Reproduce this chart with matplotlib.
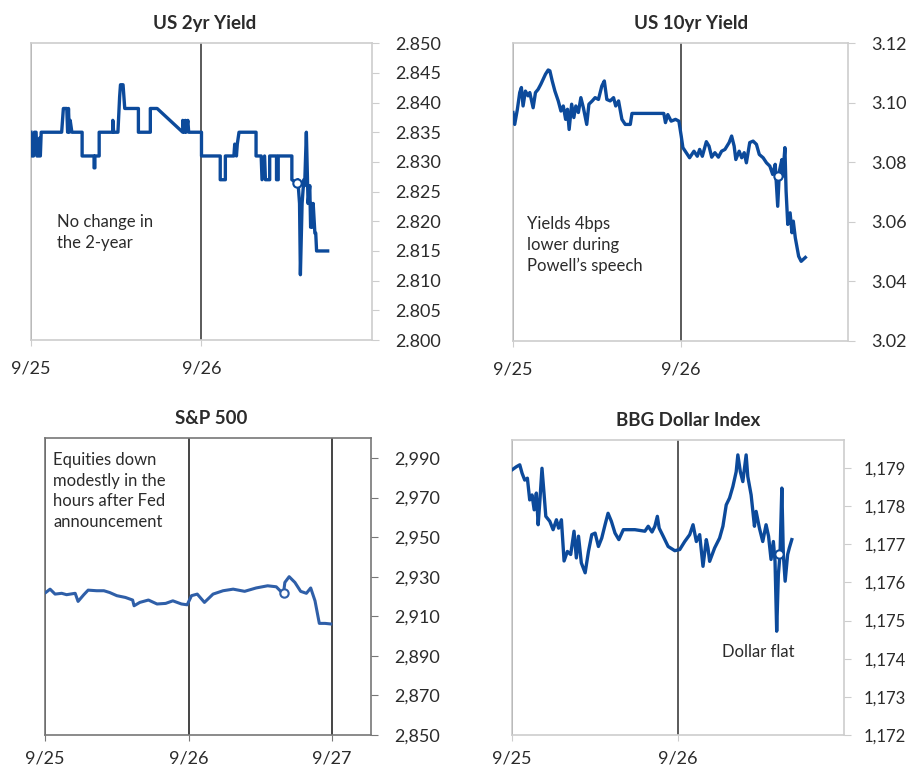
import matplotlib
matplotlib.use("Agg")
import matplotlib.pyplot as plt
from matplotlib.ticker import FuncFormatter

plt.rcParams["font.family"] = ["Lato", "DejaVu Sans"]

BLUE = "#0c4a9b"
SPX_BLUE = "#2f5fa8"
TEXT = "#2b2b2b"
LIGHT = "#cdcdcd"
DARK = "#5a5a5a"

# x is measured in days from 9/25
two_yr_x = [0.00, 0.005, 0.015, 0.02, 0.03, 0.035, 0.045, 0.05, 0.055, 0.06,
            0.18, 0.185, 0.19, 0.21, 0.215, 0.22, 0.225, 0.23, 0.24,
            0.30, 0.30, 0.37, 0.37, 0.375, 0.375, 0.40, 0.40,
            0.48, 0.48, 0.485, 0.51, 0.52, 0.525, 0.54, 0.55,
            0.63, 0.63, 0.70, 0.70, 0.74, 0.89, 0.89, 0.90, 0.905, 0.91, 0.92, 0.925,
            1.00, 1.00, 1.11, 1.11, 1.14, 1.14, 1.19, 1.195, 1.205, 1.21, 1.22,
            1.32, 1.32, 1.35, 1.355, 1.37, 1.375, 1.40, 1.40, 1.44, 1.44, 1.45, 1.45,
            1.53, 1.53, 1.555, 1.565, 1.575, 1.58, 1.59, 1.60, 1.605, 1.615, 1.625,
            1.635, 1.64, 1.645, 1.65, 1.655, 1.665, 1.67, 1.675, 1.74]
two_yr_y = [2.835, 2.831, 2.831, 2.835, 2.835, 2.831, 2.831, 2.834, 2.831, 2.835,
            2.835, 2.837, 2.839, 2.839, 2.835, 2.839, 2.835, 2.837, 2.835,
            2.835, 2.831, 2.831, 2.829, 2.829, 2.831, 2.831, 2.835,
            2.835, 2.837, 2.835, 2.835, 2.841, 2.843, 2.843, 2.839,
            2.839, 2.835, 2.835, 2.839, 2.839, 2.835, 2.837, 2.835, 2.837, 2.835, 2.837, 2.835,
            2.835, 2.831, 2.831, 2.827, 2.827, 2.831, 2.831, 2.833, 2.831, 2.833, 2.835,
            2.835, 2.831, 2.831, 2.827, 2.831, 2.827, 2.827, 2.831, 2.831, 2.827, 2.827, 2.831,
            2.831, 2.827, 2.8265, 2.827, 2.823, 2.811, 2.823, 2.827, 2.826, 2.835, 2.823,
            2.826, 2.819, 2.823, 2.819, 2.823, 2.818, 2.818, 2.815, 2.815]

ten_yr_x = [0.0, 0.01, 0.026, 0.04, 0.05, 0.06, 0.074, 0.09, 0.10, 0.12, 0.134, 0.15,
            0.166, 0.18, 0.194, 0.21, 0.22, 0.234, 0.25, 0.27, 0.286, 0.30, 0.314,
            0.325, 0.335, 0.35, 0.363, 0.375, 0.39, 0.405, 0.42, 0.44, 0.453, 0.473,
            0.49, 0.51, 0.53, 0.545, 0.56, 0.58, 0.60, 0.613, 0.63, 0.65, 0.67, 0.70,
            0.71, 0.90, 0.91, 0.924, 0.944, 0.97, 0.99, 1.004, 1.014, 1.034, 1.054,
            1.08, 1.10, 1.114, 1.13, 1.154, 1.17, 1.186, 1.205, 1.226, 1.245, 1.265,
            1.29, 1.305, 1.32, 1.33, 1.35, 1.365, 1.38, 1.393, 1.413, 1.433, 1.453,
            1.47, 1.493, 1.513, 1.533, 1.55, 1.565, 1.58, 1.59, 1.605, 1.61, 1.623,
            1.63, 1.64, 1.654, 1.665, 1.673, 1.685, 1.705, 1.72, 1.745]
ten_yr_y = [3.0967, 3.0927, 3.0978, 3.1034, 3.1051, 3.0989, 3.1039, 3.1023, 3.1034,
            3.0983, 3.1034, 3.1045, 3.1062, 3.1079, 3.1096, 3.1110, 3.1107, 3.1073,
            3.1039, 3.1006, 3.0972, 3.0989, 3.0944, 3.0978, 3.0910, 3.0995, 3.0950,
            3.0989, 3.0967, 3.1017, 3.0983, 3.0927, 3.0995, 3.1006, 3.1017, 3.1011,
            3.1056, 3.1073, 3.1011, 3.1006, 3.1017, 3.0989, 3.1006, 3.0944, 3.0927,
            3.0927, 3.0964, 3.0964, 3.0933, 3.0960, 3.0938, 3.0944, 3.0938, 3.0888,
            3.0849, 3.0832, 3.0815, 3.0837, 3.0820, 3.0843, 3.0820, 3.0869, 3.0854,
            3.0817, 3.0832, 3.0817, 3.0837, 3.0843, 3.0866, 3.0888, 3.0854, 3.0809,
            3.0837, 3.0815, 3.0832, 3.0798, 3.0866, 3.0871, 3.0860, 3.0826, 3.0815,
            3.0798, 3.0787, 3.0759, 3.0793, 3.0652, 3.0770, 3.0809, 3.0753, 3.0849,
            3.0703, 3.0591, 3.0630, 3.0563, 3.0602, 3.0546, 3.0484, 3.0467, 3.0480]

spx_x = [0.005, 0.035, 0.07, 0.116, 0.15, 0.21, 0.23, 0.27, 0.30, 0.36, 0.41, 0.45,
         0.50, 0.56, 0.61, 0.62, 0.66, 0.72, 0.78, 0.84, 0.89, 0.95, 0.99,
         1.02, 1.06, 1.11, 1.17, 1.24, 1.31, 1.39, 1.47, 1.55, 1.61, 1.66, 1.67,
         1.70, 1.74, 1.78, 1.82, 1.85, 1.88, 1.91, 1.95, 1.99]
spx_y = [2922.0, 2923.7, 2921.2, 2921.6, 2920.9, 2921.6, 2917.5, 2920.9, 2923.2,
         2922.9, 2922.9, 2922.0, 2920.4, 2919.5, 2918.2, 2915.3, 2917.0, 2918.2,
         2916.2, 2916.5, 2917.8, 2916.2, 2915.8, 2920.4, 2921.2, 2917.0, 2921.2,
         2922.9, 2923.7, 2922.6, 2924.3, 2925.4, 2924.9, 2921.2, 2927.1, 2930.0,
         2927.1, 2922.6, 2921.6, 2924.3, 2917.8, 2906.4, 2906.4, 2906.1]

dxy_x = [0.0, 0.026, 0.046, 0.06, 0.076, 0.092, 0.106, 0.12, 0.133, 0.146, 0.157,
         0.167, 0.18, 0.193, 0.203, 0.227, 0.247, 0.267, 0.28, 0.297, 0.313, 0.333,
         0.353, 0.373, 0.387, 0.40, 0.417, 0.44, 0.46, 0.48, 0.50, 0.52, 0.54, 0.56,
         0.578, 0.598, 0.62, 0.643, 0.67, 0.74, 0.80, 0.82, 0.843, 0.86, 0.875,
         0.886, 0.91, 0.94, 0.98, 1.01, 1.04, 1.07, 1.09, 1.11, 1.13, 1.15, 1.17,
         1.18, 1.19, 1.22, 1.25, 1.27, 1.29, 1.31, 1.33, 1.35, 1.36, 1.375, 1.39,
         1.41, 1.42, 1.44, 1.46, 1.47, 1.49, 1.51, 1.53, 1.545, 1.56, 1.574, 1.584,
         1.594, 1.604, 1.614, 1.625, 1.634, 1.645, 1.66, 1.67, 1.685]
dxy_y = [1178.95, 1179.03, 1179.08, 1178.86, 1178.68, 1178.73, 1178.16, 1178.29,
         1177.90, 1178.34, 1177.51, 1178.12, 1178.99, 1178.29, 1177.73, 1177.60,
         1177.38, 1177.64, 1177.42, 1177.64, 1176.56, 1176.81, 1176.73, 1177.34,
         1176.64, 1177.21, 1176.51, 1176.25, 1176.81, 1177.25, 1177.29, 1176.94,
         1177.16, 1177.51, 1177.81, 1177.60, 1177.29, 1177.12, 1177.38, 1177.38,
         1177.34, 1177.47, 1177.32, 1177.47, 1177.73, 1177.42, 1177.21, 1176.94,
         1176.83, 1176.86, 1177.07, 1177.25, 1177.51, 1177.07, 1177.25, 1176.42,
         1177.12, 1176.90, 1176.55, 1176.90, 1177.16, 1177.47, 1178.03, 1178.21,
         1178.51, 1178.90, 1179.34, 1178.90, 1178.64, 1179.34, 1178.77, 1178.29,
         1177.47, 1177.86, 1177.42, 1177.07, 1177.51, 1177.21, 1176.60, 1177.07,
         1176.55, 1174.72, 1176.20, 1176.73, 1178.47, 1176.73, 1176.03, 1176.73,
         1176.90, 1177.12]

# Powell speech markers (x, y)
speech_pts = {"2yr": (1.56, 2.8265), "10yr": (1.58, 3.0755),
              "spx": (1.665, 2922.0), "dxy": (1.605, 1176.73)}

two_yr_ticks = [2.800, 2.805, 2.810, 2.815, 2.820, 2.825, 2.830, 2.835, 2.840, 2.845, 2.850]
ten_yr_ticks = [3.02, 3.04, 3.06, 3.08, 3.10, 3.12]
spx_ticks = [2850, 2870, 2890, 2910, 2930, 2950, 2970, 2990]
dxy_ticks = [1172, 1173, 1174, 1175, 1176, 1177, 1178, 1179]

fig = plt.figure(figsize=(9.08, 7.71), dpi=100)


def style_axes(ax, title, ylim, yticks, fmt, xmax, day_lines, frame_color, line_color,
               title_x=0.5, xpad=11, ysize=13, ypad=12):
    ax.set_xlim(0, xmax)
    ax.set_ylim(*ylim)
    for s in ax.spines.values():
        s.set_color(frame_color)
        s.set_linewidth(1.2)
    for d in day_lines:
        ax.axvline(d, color=line_color, lw=1.4, zorder=1)
    ax.yaxis.tick_right()
    ax.set_yticks(yticks)
    ax.yaxis.set_major_formatter(FuncFormatter(fmt))
    ax.tick_params(axis="y", length=5, color=frame_color, labelsize=ysize,
                   labelcolor=TEXT, pad=ypad)
    ax.set_xticks(day_lines)
    ax.set_xticklabels(["9/%d" % (25 + int(d)) for d in day_lines])
    ax.tick_params(axis="x", length=4, color=frame_color, labelsize=13,
                   labelcolor=TEXT, pad=xpad)
    ax.set_title(title, fontsize=13.5, fontweight="bold", color=TEXT, pad=10, x=title_x)


# US 2yr
ax1 = fig.add_axes([0.0341, 0.559, 0.3756, 0.385])
style_axes(ax1, "US 2yr Yield", (2.800, 2.850), two_yr_ticks, lambda v, p: "%.3f" % v,
           2.0, [0, 1], LIGHT, DARK, title_x=0.51)
ax1.plot(two_yr_x, two_yr_y, color=BLUE, lw=2.4, zorder=3)
ax1.plot(*speech_pts["2yr"], "o", ms=6, mfc="white", mec=BLUE, mew=1.5, zorder=4)
ax1.text(0.153, 2.8212, "No change in\nthe 2-year", fontsize=12, color=TEXT,
         va="top", ha="left", linespacing=1.35)

# US 10yr
ax2 = fig.add_axes([0.565, 0.558, 0.369, 0.386])
style_axes(ax2, "US 10yr Yield", (3.02, 3.12), ten_yr_ticks, lambda v, p: "%.2f" % v,
           2.0, [0, 1], LIGHT, DARK, title_x=0.53)
ax2.plot(ten_yr_x, ten_yr_y, color=BLUE, lw=2.4, zorder=3)
ax2.plot(*speech_pts["10yr"], "o", ms=6, mfc="white", mec=BLUE, mew=1.5, zorder=4)
ax2.text(0.084, 3.0618, "Yields 4bps\nlower during\nPowell\u2019s speech", fontsize=12,
         color=TEXT, va="top", ha="left", linespacing=1.35)

# S&P 500
ax3 = fig.add_axes([0.0496, 0.0467, 0.359, 0.385])
style_axes(ax3, "S&P 500", (2850, 3000), spx_ticks, lambda v, p: "{:,.0f}".format(v),
           2.27, [0, 1, 2], "#777777", "#444444", title_x=0.51, xpad=7)
ax3.plot(spx_x, spx_y, color=SPX_BLUE, lw=2.2, zorder=3)
ax3.plot(*speech_pts["spx"], "o", ms=6, mfc="white", mec=SPX_BLUE, mew=1.5, zorder=4)
ax3.text(0.056, 2993, "Equities down\nmodestly in the\nhours after Fed\nannouncement",
         fontsize=12, color=TEXT, va="top", ha="left", linespacing=1.35)

# BBG Dollar Index
ax4 = fig.add_axes([0.564, 0.0467, 0.3656, 0.3826])
style_axes(ax4, "BBG Dollar Index", (1172, 1179.73), dxy_ticks,
           lambda v, p: "{:,.0f}".format(v), 2.0, [0, 1], LIGHT, DARK, title_x=0.53,
           xpad=7, ysize=12, ypad=9)
ax4.plot(dxy_x, dxy_y, color=BLUE, lw=2.4, zorder=3)
ax4.plot(*speech_pts["dxy"], "o", ms=6, mfc="white", mec=BLUE, mew=1.5, zorder=4)
ax4.text(1.265, 1174.38, "Dollar flat", fontsize=12, color=TEXT, va="top", ha="left")

fig.savefig("out.png", dpi=100)
